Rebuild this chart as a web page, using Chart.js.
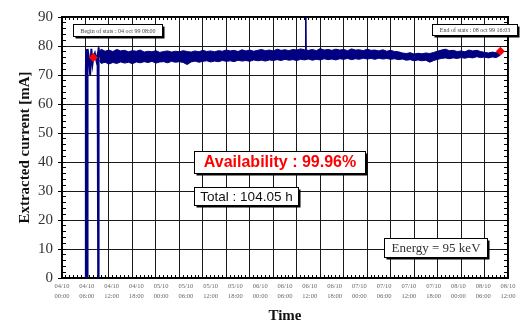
<!DOCTYPE html>
<html>
<head>
<meta charset="utf-8">
<script src="https://cdn.jsdelivr.net/npm/chart.js@4.4.1/dist/chart.umd.min.js"></script>
<style>
  html, body { margin: 0; padding: 0; background: #fff; }
  #wrap { width: 520px; height: 322px; }
</style>
</head>
<body>
<div id="wrap"><canvas id="courant" width="520" height="322"></canvas></div>
<script>
// Time axis runs in hours from 04/10 00:00
const tickDays = ['04/10', '04/10', '04/10', '04/10', '05/10', '05/10', '05/10', '05/10', '06/10', '06/10',
                  '06/10', '06/10', '07/10', '07/10', '07/10', '07/10', '08/10', '08/10', '08/10'];
const tickTimes = ['00:00', '06:00', '12:00', '18:00', '00:00', '06:00', '12:00', '18:00', '00:00', '06:00',
                   '12:00', '18:00', '00:00', '06:00', '12:00', '18:00', '00:00', '06:00', '12:00'];
tickTimes.push('18:00');

// beam start-up (trips before the stable run)
const startHours   = [6.05, 6.1, 6.2, 6.3, 6.35, 6.4, 6.5, 6.55, 6.9, 7.2, 7.5, 7.8, 8.0, 8.4, 8.8, 9.1, 9.25, 9.35, 9.6];
const startCurrent = [0, 72, 79, 78, 71, 0, 0, 79, 76, 70, 79, 74, 76, 77.5, 75, 77, 0, 79.5, 76];

// stable run : min / max of the current over 1 h windows
const bandHours = [9.6, 10, 11, 12, 13, 14, 15, 16, 17, 18, 19, 20, 21, 22, 23, 24, 25, 26, 27, 28, 29,
                   30, 31, 32, 33, 34, 35, 36, 37, 38, 39, 40, 41, 42, 43, 44, 45, 46, 47, 48, 49,
                   50, 51, 52, 53, 54, 55, 56, 57, 58, 59, 60, 61, 62, 63, 64, 65, 66, 67, 68, 69,
                   70, 71, 72, 73, 74, 75, 76, 77, 78, 79, 80, 81, 82, 83, 84, 85, 86, 87, 88, 89,
                   90, 91, 92, 93, 94, 95, 96, 97, 98, 99, 100, 101, 102, 103, 104, 105, 106, 107, 108, 109,
                   110, 111, 112];
const bandMax = [78.0,
                 78.9, 78.2, 78.6, 78.1, 78.8, 78.3, 78.5, 78.0, 78.4, 78.2,
                 78.6, 77.9, 78.2, 78.0, 78.4, 77.8, 78.1, 78.3, 77.9, 78.2,
                 78.0, 78.4, 78.1, 77.9, 78.3, 78.0, 78.5, 78.1, 78.3, 78.0,
                 78.4, 78.2, 78.6, 78.3, 78.5, 78.1, 78.7, 78.3, 78.6, 78.2,
                 78.5, 78.8, 78.4, 78.6, 78.3, 78.9, 78.5, 78.7, 78.4, 78.8,
                 78.6, 79.0, 78.7, 78.5, 78.8, 78.4, 79.1, 78.6, 78.8, 78.5,
                 78.9, 78.6, 78.8, 78.4, 79.0, 78.6, 78.7, 78.4, 78.9, 78.5,
                 78.6, 78.3, 78.7, 78.2, 78.5, 78.1, 78.0, 77.6, 77.4, 77.7,
                 77.2, 77.5, 77.3, 77.6, 77.4, 77.8, 78.2, 78.6, 78.9, 78.4,
                 78.5, 78.1, 78.3, 78.0, 78.6, 78.3, 78.5, 78.1, 77.8, 77.6,
                 77.9, 77.7, 78.3];
const bandMin = [75.0,
                 74.0, 74.4, 73.8, 74.3, 74.0, 74.5, 74.1, 74.4, 73.9, 74.5,
                 74.2, 74.6, 74.3, 74.7, 74.1, 74.5, 74.6, 74.2, 74.7, 74.4,
                 74.6, 74.3, 73.6, 74.5, 74.8, 74.4, 74.7, 74.9, 74.5, 74.8,
                 74.6, 75.0, 74.7, 74.9, 74.6, 75.1, 74.8, 75.0, 74.7, 75.2,
                 74.9, 75.1, 74.8, 75.2, 75.0, 75.3, 75.0, 75.4, 75.1, 75.3,
                 75.0, 75.4, 75.2, 75.5, 75.1, 75.4, 75.2, 75.6, 75.3, 75.5,
                 75.2, 75.6, 75.4, 75.7, 75.3, 75.6, 75.4, 75.8, 75.5, 75.7,
                 75.4, 75.8, 75.5, 75.7, 75.4, 75.6, 75.3, 75.5, 75.1, 75.3,
                 74.9, 75.2, 74.9, 75.1, 74.4, 75.0, 75.4, 75.7, 75.9, 75.6,
                 75.9, 75.7, 76.0, 75.8, 76.1, 75.9, 76.3, 76.0, 76.2, 75.9,
                 76.2, 76.0, 76.8];

// single spike on 06/10
const spikeHours   = [62.2, 62.3, 62.4];
const spikeCurrent = [77.5, 96, 77.5];

// begin / end of statistics
const markHours   = [8.0, 112.05];
const markCurrent = [76, 78.2];

const navy = '#000080';
const serif = '"Liberation Serif", "Times New Roman", serif';
const sans = '"Liberation Sans", Arial, sans-serif';

function pts(xs, ys) {
    return xs.map((x, i) => ({ x: x, y: ys[i] }));
}

// text boxes with a drop shadow, anchored in hours / mA
const notes = [
    { text: 'Begin of stats : 04 oct 99 08:00', h: 2.81, mA: 87.6, w: 89, ht: 12, font: '6px ' + serif, color: '#444', sh: 2 },
    { text: 'End of stats : 08 oct 99 16:03', h: 94.58, mA: 87.6, w: 85, ht: 11, font: '6px ' + serif, color: '#444', sh: 2 },
    { text: 'Availability : 99.96%', h: 33.74, mA: 43.8, w: 171, ht: 22, font: 'bold 16px ' + sans, color: '#ff0000', sh: 2 },
    { text: 'Total : 104.05 h', h: 33.74, mA: 31.4, w: 104, ht: 18, font: '13.5px ' + sans, color: '#111', sh: 2 },
    { text: 'Energy = 95 keV', h: 82.3, mA: 13.8, w: 103, ht: 19, font: '13px ' + serif, color: '#333', sh: 2 }
];

const notePlugin = {
    id: 'notes',
    afterDraw(chart) {
        const ctx = chart.ctx;
        const xs = chart.scales.x, ys = chart.scales.y;
        ctx.save();
        notes.forEach(n => {
            const left = Math.round(xs.getPixelForValue(n.h)) + 0.5;
            const top = Math.round(ys.getPixelForValue(n.mA)) + 0.5;
            ctx.fillStyle = '#000';
            ctx.fillRect(left + n.sh, top + n.sh, n.w, n.ht);
            ctx.fillStyle = '#fff';
            ctx.fillRect(left, top, n.w, n.ht);
            ctx.strokeStyle = '#000';
            ctx.lineWidth = 1;
            ctx.strokeRect(left, top, n.w, n.ht);
            ctx.font = n.font;
            ctx.fillStyle = n.color;
            ctx.textAlign = 'center';
            ctx.textBaseline = 'middle';
            ctx.fillText(n.text, left + n.w / 2, top + n.ht / 2 + 0.5);
        });
        ctx.restore();
    }
};

// inward minor ticks, no size of their own
function minorAxis(axis, position, min, max, step, len) {
    return {
        type: 'linear', axis: axis, position: position, min: min, max: max, weight: 0,
        ticks: { display: false, stepSize: step, autoSkip: false, maxTicksLimit: 500 },
        grid: { drawOnChartArea: false, drawTicks: true, tickLength: -len, tickColor: '#000', tickWidth: 1 },
        border: { display: true, color: '#000', width: 1.5 },
        afterFit: s => { if (axis === 'x') s.height = 0; else s.width = 0; }
    };
}

const line = {
    type: 'line',
    data: {
        datasets: [
            {
                data: pts(markHours, markCurrent), xAxisID: 'x', yAxisID: 'y', order: 0,
                showLine: false, pointStyle: 'rectRot', pointRadius: 4.5, pointBackgroundColor: '#ff0000',
                pointBorderColor: '#ff0000', pointBorderWidth: 0
            },
            {
                data: pts(spikeHours, spikeCurrent), xAxisID: 'x', yAxisID: 'y', order: 1,
                borderColor: navy, borderWidth: 1.5, pointRadius: 0, tension: 0
            },
            {
                data: pts(startHours, startCurrent), xAxisID: 'x', yAxisID: 'y', order: 2,
                borderColor: navy, borderWidth: 2, pointRadius: 0, tension: 0
            },
            {
                data: pts(bandHours, bandMax), xAxisID: 'x', yAxisID: 'y', order: 3,
                borderColor: navy, backgroundColor: navy, borderWidth: 1, pointRadius: 0, tension: 0, fill: '+1'
            },
            {
                data: pts(bandHours, bandMin), xAxisID: 'x', yAxisID: 'y', order: 4,
                borderColor: navy, borderWidth: 1, pointRadius: 0, tension: 0, fill: false
            }
        ]
    },
    options: {
        responsive: false,
        animation: false,
        devicePixelRatio: 1,
        layout: { padding: { top: 17, right: 12, left: 0, bottom: 0 } },
        plugins: { legend: { display: false }, tooltip: { enabled: false } },
        scales: {
            x: {
                type: 'linear', position: 'bottom', min: 0, max: 114, weight: 0,
                ticks: { display: false, stepSize: 6, autoSkip: false },
                grid: { color: '#1a1a1a', lineWidth: 1, drawTicks: false },
                border: { display: true, color: '#000', width: 1.5 },
                afterFit: s => { s.height = 0; }
            },
            xMinor: minorAxis('x', 'bottom', 0, 114, 1, 3),
            xTop: minorAxis('x', 'top', 0, 114, 1, 3),
            xl: {
                type: 'linear', axis: 'x', position: 'bottom', min: 0, max: 18, weight: 2,
                ticks: {
                    stepSize: 1, autoSkip: false, maxRotation: 0, padding: 4, color: '#666',
                    font: { family: serif, size: 6.5, lineHeight: 1.45 },
                    callback: v => [tickDays[v], tickTimes[v]]
                },
                grid: { display: false, drawTicks: false },
                border: { display: false },
                title: {
                    display: true, text: 'Time', color: '#111',
                    font: { family: serif, size: 15, weight: 'bold', lineHeight: 1 },
                    padding: { top: 0, bottom: -2 }
                },
                afterFit: s => { s.height = 44; }
            },
            y: {
                type: 'linear', position: 'left', min: 0, max: 90, weight: 1,
                ticks: { stepSize: 10, padding: 5, color: '#333', font: { family: serif, size: 15 } },
                grid: { color: '#1a1a1a', lineWidth: 1, drawTicks: true, tickLength: 4, tickColor: '#000' },
                border: { display: true, color: '#000', width: 1.5 },
                title: {
                    display: true, text: 'Extracted current [mA]', color: '#111',
                    font: { family: serif, size: 15, weight: 'bold', lineHeight: 1.2 },
                    padding: { top: 16, bottom: 0 }
                },
                afterFit: s => { s.width = 62; }
            },
            yMinor: minorAxis('y', 'left', 0, 90, 2, 4),
            yRight: minorAxis('y', 'right', 0, 90, 2, 4)
        }
    },
    plugins: [notePlugin]
};

new Chart(document.getElementById('courant'), line);
</script>
</body>
</html>
